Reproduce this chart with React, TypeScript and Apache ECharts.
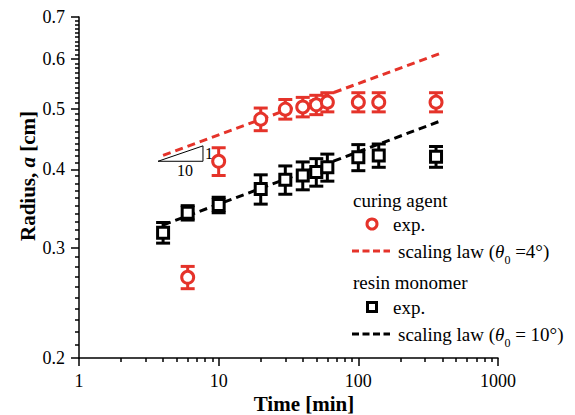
import React, { useEffect, useRef } from "react";
import * as echarts from "echarts";

// ---- data ----
const timesCuring = [6, 10, 20, 30, 40, 50, 60, 100, 140, 360];
const radiusCuring = [0.269, 0.412, 0.481, 0.499, 0.503, 0.507, 0.512, 0.512, 0.512, 0.512];
const errCuring = [0.011, 0.021, 0.02, 0.018, 0.018, 0.018, 0.018, 0.018, 0.018, 0.018];

const timesResin = [4, 6, 10, 20, 30, 40, 50, 60, 100, 140, 360];
const radiusResin = [0.317, 0.341, 0.351, 0.372, 0.385, 0.391, 0.396, 0.403, 0.418, 0.421, 0.419];
const errResin = [0.012, 0.009, 0.01, 0.02, 0.02, 0.02, 0.02, 0.02, 0.02, 0.018, 0.016];

const lawCuringT = [4, 390];
const lawCuringA = [0.421, 0.613];
const lawResinT = [4, 390];
const lawResinA = [0.326, 0.478];

const triangleT = [3.68, 7.72, 7.72, 3.68];
const triangleA = [0.412, 0.412, 0.436, 0.412];

const xMajorTicks = [1, 10, 100, 1000];
const xMinorTicks = [2, 3, 4, 5, 6, 7, 8, 9, 20, 30, 40, 50, 60, 70, 80, 90, 200, 300, 400, 500, 600, 700, 800, 900];
const yMajorTicks = [0.2, 0.3, 0.4, 0.5, 0.6, 0.7];
const yMinorTicks: number[] = [];
for (let i = 21; i < 70; i++) if (i % 10 !== 0) yMinorTicks.push(i / 100);

const RED = "#E5332A";
const FONT = "Liberation Serif";

function errorSeries(times: number[], vals: number[], errs: number[], color: string) {
  return {
    type: "custom",
    xAxisIndex: 0,
    yAxisIndex: 0,
    silent: true,
    z: 3,
    data: times.map((t, i) => [t, vals[i] - errs[i], vals[i] + errs[i]]),
    encode: { x: 0, y: [1, 2] },
    renderItem: (params: any, api: any) => {
      const x = api.value(0);
      const lo = api.coord([x, api.value(1)]);
      const hi = api.coord([x, api.value(2)]);
      const w = 7;
      const st = { stroke: color, lineWidth: 3 };
      return {
        type: "group",
        children: [
          { type: "line", shape: { x1: lo[0], y1: lo[1], x2: hi[0], y2: hi[1] }, style: st },
          { type: "line", shape: { x1: lo[0] - w, y1: lo[1], x2: lo[0] + w, y2: lo[1] }, style: st },
          { type: "line", shape: { x1: hi[0] - w, y1: hi[1], x2: hi[0] + w, y2: hi[1] }, style: st },
        ],
      };
    },
  };
}

export default function App() {
  const ref = useRef<HTMLDivElement>(null);
  useEffect(() => {
    if (!ref.current) return;
    const chart = echarts.init(ref.current, undefined, { renderer: "svg" });
    const tickLabel = { fontFamily: FONT, fontSize: 18, color: "#000" };
    const axisLine = { show: true, lineStyle: { color: "#000", width: 1.5 } };
    const legendText = { fontFamily: FONT, fontSize: 19, fill: "#000", verticalAlign: "middle" };
    const rich = {
      t: { fontFamily: FONT, fontSize: 19, fontStyle: "italic", lineHeight: 30, verticalAlign: "middle" },
      s: { fontFamily: FONT, fontSize: 12, lineHeight: 12, verticalAlign: "bottom" },
      n: { fontFamily: FONT, fontSize: 19, lineHeight: 30, verticalAlign: "middle" },
    };
    const titleRich = {
      b: { fontFamily: FONT, fontSize: 21, fontWeight: "bold", fill: "#000" },
      i: { fontFamily: FONT, fontSize: 21, fontWeight: "bold", fontStyle: "italic", fill: "#000" },
    };
    const option: any = {
      animation: false,
      backgroundColor: "#fff",
      grid: { left: 79, right: 77, top: 17, bottom: 57, containLabel: false },
      xAxis: [
        {
          type: "log",
          logBase: 10,
          min: 1,
          max: 1000,
          position: "bottom",
          axisLine,
          axisTick: { show: true, customValues: xMajorTicks, length: 8, lineStyle: { color: "#000", width: 1.5 } },
          axisLabel: {
            customValues: xMajorTicks,
            margin: 14,
            ...tickLabel,
            formatter: (v: number) => String(Math.round(v)),
          },
          splitLine: { show: false },
          minorTick: { show: false },
        },
        {
          type: "log",
          logBase: 10,
          min: 1,
          max: 1000,
          position: "bottom",
          offset: 0,
          axisLine: { show: false },
          axisTick: { show: true, customValues: xMinorTicks, length: 4, lineStyle: { color: "#000", width: 1.5 } },
          axisLabel: { show: false },
          splitLine: { show: false },
        },
      ],
      yAxis: [
        {
          type: "log",
          logBase: 10,
          min: 0.2,
          max: 0.7,
          position: "left",
          axisLine,
          axisTick: { show: true, customValues: yMajorTicks, length: 8, lineStyle: { color: "#000", width: 1.5 } },
          axisLabel: {
            customValues: yMajorTicks,
            margin: 14,
            ...tickLabel,
            formatter: (v: number) => v.toFixed(1),
          },
          splitLine: { show: false },
        },
        {
          type: "log",
          logBase: 10,
          min: 0.2,
          max: 0.7,
          position: "left",
          offset: 0,
          axisLine: { show: false },
          axisTick: { show: true, customValues: yMinorTicks, length: 4, lineStyle: { color: "#000", width: 1.5 } },
          axisLabel: { show: false },
          splitLine: { show: false },
        },
      ],
      series: [
        {
          type: "line",
          name: "triangle",
          data: triangleT.map((t, i) => [t, triangleA[i]]),
          showSymbol: false,
          symbol: "none",
          lineStyle: { color: "#000", width: 1 },
          silent: true,
          z: 1,
        },
        {
          type: "line",
          name: "scaling law curing",
          data: lawCuringT.map((t, i) => [t, lawCuringA[i]]),
          symbol: "none",
          lineStyle: { color: RED, width: 3, type: [8, 5] },
          silent: true,
          z: 2,
        },
        {
          type: "line",
          name: "scaling law resin",
          data: lawResinT.map((t, i) => [t, lawResinA[i]]),
          symbol: "none",
          lineStyle: { color: "#000", width: 3, type: [8, 5] },
          silent: true,
          z: 2,
        },
        errorSeries(timesCuring, radiusCuring, errCuring, RED),
        errorSeries(timesResin, radiusResin, errResin, "#000"),
        {
          type: "scatter",
          name: "curing agent exp.",
          data: timesCuring.map((t, i) => [t, radiusCuring[i]]),
          symbol: "circle",
          symbolSize: 12,
          itemStyle: { color: "#fff", borderColor: RED, borderWidth: 3, opacity: 1 },
          z: 4,
        },
        {
          type: "scatter",
          name: "resin monomer exp.",
          data: timesResin.map((t, i) => [t, radiusResin[i]]),
          symbol: "rect",
          symbolSize: 11,
          itemStyle: { color: "#fff", borderColor: "#000", borderWidth: 3, opacity: 1 },
          z: 4,
        },
      ],
      graphic: [
        // axis titles
        { type: "text", x: 304, y: 404, style: { text: "{b|Time [min]}", rich: titleRich, align: "center", verticalAlign: "middle" } },
        { type: "text", x: 28, y: 176, rotation: Math.PI / 2, style: { text: "{b|Radius, }{i|a}{b| [cm]}", rich: titleRich, align: "center", verticalAlign: "middle" } },
        // slope triangle labels
        { type: "text", x: 185, y: 170, style: { text: "10", fontFamily: FONT, fontSize: 16, fill: "#000", align: "center", verticalAlign: "middle" } },
        { type: "text", x: 205, y: 153, style: { text: "1", fontFamily: FONT, fontSize: 16, fill: "#000", align: "left", verticalAlign: "middle" } },
        // legend
        { type: "text", x: 353, y: 200, style: { text: "curing agent", ...legendText } },
        { type: "circle", shape: { cx: 372, cy: 224, r: 5 }, style: { fill: "#fff", stroke: RED, lineWidth: 3 } },
        { type: "text", x: 393, y: 224, style: { text: "exp.", ...legendText } },
        { type: "line", shape: { x1: 352, y1: 251, x2: 390, y2: 251 }, style: { stroke: RED, lineWidth: 3, lineDash: [7, 3.5] } },
        { type: "text", x: 398, y: 251, style: { text: "{n|scaling law (}{t|θ}{s|0}{n| =4°)}", rich, fill: "#000", verticalAlign: "middle" } },
        { type: "text", x: 353, y: 282, style: { text: "resin monomer", ...legendText } },
        { type: "rect", shape: { x: 367.5, y: 302.5, width: 9, height: 9 }, style: { fill: "#fff", stroke: "#000", lineWidth: 3 } },
        { type: "text", x: 393, y: 307, style: { text: "exp.", ...legendText } },
        { type: "line", shape: { x1: 352, y1: 334, x2: 390, y2: 334 }, style: { stroke: "#000", lineWidth: 3, lineDash: [7, 3.5] } },
        { type: "text", x: 398, y: 334, style: { text: "{n|scaling law (}{t|θ}{s|0}{n| = 10°)}", rich, fill: "#000", verticalAlign: "middle" } },
      ],
    };
    chart.setOption(option);
    return () => chart.dispose();
  }, []);
  return <div ref={ref} style={{ width: 575, height: 415, position: "fixed", left: 0, top: 0 }} />;
}
